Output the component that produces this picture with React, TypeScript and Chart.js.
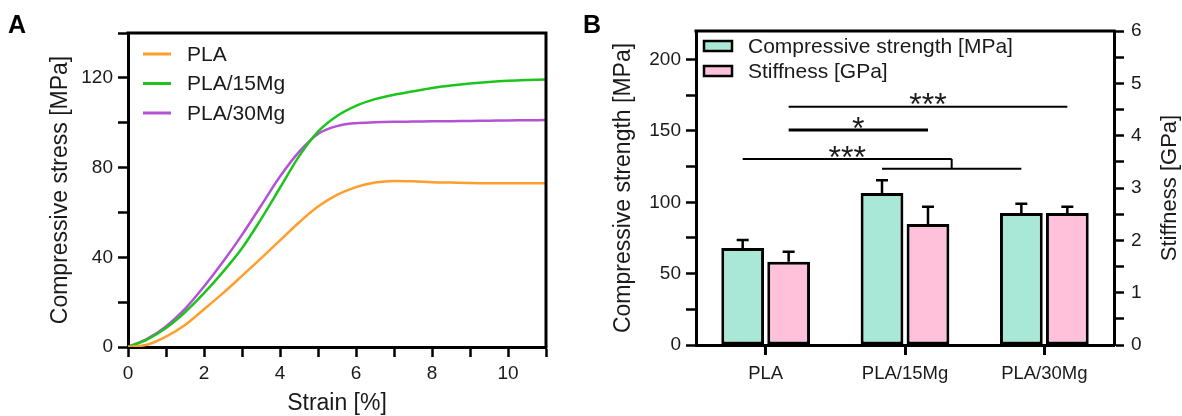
import React, { useEffect, useRef } from 'react';
import { Chart, registerables } from 'chart.js';

Chart.register(...registerables);

const FONT = "'Liberation Sans', Arial, Helvetica, sans-serif";
const TEXT = '#1a1a1a';

// ---------- Panel A data ----------
const strain = [0, 0.5, 1, 1.5, 2, 2.5, 3, 3.5, 4, 4.5, 5, 5.5, 6, 6.5, 7, 7.5, 8, 8.5, 9, 9.5, 10, 10.5, 11];
const stressPLA = [0, 1, 4.6, 9.8, 16.8, 24, 31.7, 39.5, 47.5, 55.5, 62.6, 67.8, 71.3, 73.3, 74, 73.9, 73.5, 73.3, 73.1, 73, 73, 73, 73];
const stress15Mg = [0, 3.3, 8.5, 15.5, 24, 33.5, 44, 57, 71, 85, 96, 103, 107.5, 110.5, 112.5, 114, 115.5, 116.6, 117.5, 118.2, 118.7, 119, 119.3];
const stress30Mg = [0, 3.6, 9.2, 17, 27, 38, 50, 63, 76, 87, 95, 98.5, 99.8, 100.2, 100.4, 100.5, 100.6, 100.7, 100.8, 100.9, 101, 101.1, 101.2];
const seriesNamesA = ['PLA', 'PLA/15Mg', 'PLA/30Mg'];

// ---------- Panel B data ----------
const groups = ['PLA', 'PLA/15Mg', 'PLA/30Mg'];
const strength = [68, 106.5, 92.5];
const strengthErr = [5.5, 9, 6.5];
const stiffness = [1.59, 2.31, 2.52];
const stiffnessErr = [0.19, 0.33, 0.12];
const seriesNamesB = ['Compressive strength [MPa]', 'Stiffness [GPa]'];

// significance: [groupIndex, datasetIndex] endpoints, level in MPa
const significance = [
  { label: '***', from: [0, 1], to: [2, 1], level: 167 },
  { label: '*', from: [0, 1], to: [1, 1], level: 150.6 },
  { label: '***', from: [0, 0], bracket: { from: [1, 0], to: [2, 0], level: 123.5 }, level: 130.3 },
];

const COLORS = {
  pla: '#FF9E2C',
  mg15: '#1EC41E',
  mg30: '#B352D4',
  strength: '#A9E8D7',
  stiffness: '#FFC1DA',
};

const tickFont = { family: FONT, size: 19 };
const titleFont = { family: FONT, size: 23, lineHeight: 1 };

const framePlugin = (drawRight: boolean) => ({
  id: 'frame' + (drawRight ? 'R' : ''),
  afterDraw(chart: any) {
    const { ctx, chartArea: ca } = chart;
    ctx.save();
    ctx.strokeStyle = '#000';
    ctx.lineWidth = 3;
    ctx.beginPath();
    ctx.moveTo(ca.left - 1.5, ca.top);
    ctx.lineTo(ca.right + 1.5, ca.top);
    if (drawRight) {
      ctx.moveTo(ca.right, ca.top);
      ctx.lineTo(ca.right, ca.bottom + 1.5);
    }
    ctx.stroke();
    ctx.restore();
  },
});

const letterPlugin = (letter: string, x: number) => ({
  id: 'letter' + letter,
  afterDraw(chart: any) {
    const { ctx } = chart;
    ctx.save();
    ctx.font = `bold 25px ${FONT}`;
    ctx.fillStyle = '#000';
    ctx.textBaseline = 'alphabetic';
    ctx.fillText(letter, x, 33);
    ctx.restore();
  },
});

const legendAPlugin = {
  id: 'legendA',
  afterDraw(chart: any) {
    const { ctx, chartArea: ca } = chart;
    ctx.save();
    ctx.font = `21px ${FONT}`;
    ctx.textBaseline = 'middle';
    ctx.fillStyle = TEXT;
    chart.data.datasets.forEach((ds: any, i: number) => {
      const y = ca.top + 21 + i * 29.5;
      ctx.strokeStyle = ds.borderColor;
      ctx.lineWidth = 3;
      ctx.beginPath();
      ctx.moveTo(ca.left + 15, y);
      ctx.lineTo(ca.left + 43, y);
      ctx.stroke();
      ctx.fillText(ds.label, ca.left + 59, y + 1);
    });
    ctx.restore();
  },
};

const legendBPlugin = {
  id: 'legendB',
  afterDraw(chart: any) {
    const { ctx, chartArea: ca } = chart;
    ctx.save();
    ctx.font = `21px ${FONT}`;
    ctx.textBaseline = 'middle';
    chart.data.datasets.forEach((ds: any, i: number) => {
      const y = ca.top + 15 + i * 25;
      ctx.fillStyle = ds.backgroundColor;
      ctx.fillRect(ca.left + 8, y - 5, 28, 10);
      ctx.strokeStyle = '#000';
      ctx.lineWidth = 2.5;
      ctx.strokeRect(ca.left + 8, y - 5, 28, 10);
      ctx.fillStyle = TEXT;
      ctx.fillText(ds.label, ca.left + 52, y + 1);
    });
    ctx.restore();
  },
};

const errorBarPlugin = {
  id: 'errorBars',
  afterDatasetsDraw(chart: any) {
    const { ctx } = chart;
    const errs = [strengthErr, stiffnessErr];
    ctx.save();
    ctx.strokeStyle = '#000';
    ctx.lineWidth = 2.5;
    chart.data.datasets.forEach((ds: any, di: number) => {
      const meta = chart.getDatasetMeta(di);
      const scale = chart.scales[ds.yAxisID];
      meta.data.forEach((bar: any, i: number) => {
        const top = scale.getPixelForValue(ds.data[i] + errs[di][i]);
        ctx.beginPath();
        ctx.moveTo(bar.x, bar.y);
        ctx.lineTo(bar.x, top);
        ctx.moveTo(bar.x - 6, top);
        ctx.lineTo(bar.x + 6, top);
        ctx.stroke();
      });
    });
    ctx.restore();
  },
};

const significancePlugin = {
  id: 'significance',
  afterDraw(chart: any) {
    const { ctx } = chart;
    const yS = chart.scales.y;
    const barX = (p: number[]) => chart.getDatasetMeta(p[1]).data[p[0]].x;
    ctx.save();
    ctx.strokeStyle = '#000';
    ctx.fillStyle = TEXT;
    ctx.font = `32px ${FONT}`;
    ctx.textAlign = 'center';
    ctx.textBaseline = 'alphabetic';
    significance.forEach((s: any) => {
      const y = yS.getPixelForValue(s.level);
      const x1 = barX(s.from);
      let x2: number;
      ctx.lineWidth = 2;
      if (s.bracket) {
        const bx1 = barX(s.bracket.from);
        const bx2 = barX(s.bracket.to);
        const by = yS.getPixelForValue(s.bracket.level);
        x2 = (bx1 + bx2) / 2;
        ctx.beginPath();
        ctx.moveTo(bx1, by);
        ctx.lineTo(bx2, by);
        ctx.moveTo(x2, by);
        ctx.lineTo(x2, y);
        ctx.stroke();
      } else {
        x2 = barX(s.to);
      }
      ctx.lineWidth = s.label.length === 1 ? 3 : 2;
      ctx.beginPath();
      ctx.moveTo(x1, y);
      ctx.lineTo(x2, y);
      ctx.stroke();
      ctx.fillText(s.label, (x1 + x2) / 2, y + 8.5);
    });
    ctx.restore();
  },
};

const rightTitlePlugin = {
  id: 'rightTitle',
  afterDraw(chart: any) {
    const { ctx, chartArea: ca } = chart;
    ctx.save();
    ctx.font = `22px ${FONT}`;
    ctx.fillStyle = TEXT;
    ctx.textAlign = 'center';
    ctx.textBaseline = 'middle';
    ctx.translate(590, (ca.top + ca.bottom) / 2);
    ctx.rotate(-Math.PI / 2);
    ctx.fillText('Stiffness [GPa]', 0, 0);
    ctx.restore();
  },
};

const axisCommon = {
  grid: { drawOnChartArea: false, drawTicks: true, tickLength: 10, tickWidth: 2.5, tickColor: '#000' },
  border: { display: true, width: 3, color: '#000' },
};

export default function App() {
  const refA = useRef<HTMLCanvasElement>(null);
  const refB = useRef<HTMLCanvasElement>(null);

  useEffect(() => {
    const mk = (vals: number[]) => strain.map((x, i) => ({ x, y: vals[i] }));
    const chartA = new Chart(refA.current!, {
      type: 'line',
      data: {
        datasets: [
          { label: seriesNamesA[0], data: mk(stressPLA), borderColor: COLORS.pla },
          { label: seriesNamesA[1], data: mk(stress15Mg), borderColor: COLORS.mg15 },
          { label: seriesNamesA[2], data: mk(stress30Mg), borderColor: COLORS.mg30 },
        ].map((d) => ({ ...d, borderWidth: 2.5, pointRadius: 0, fill: false, cubicInterpolationMode: 'monotone' as const })),
      },
      options: {
        responsive: false,
        animation: false,
        layout: { padding: { left: 0, right: 34, top: 33, bottom: 0 } },
        plugins: { legend: { display: false }, tooltip: { enabled: false } },
        scales: {
          x: {
            type: 'linear',
            min: 0,
            max: 11,
            ...axisCommon,
            ticks: {
              stepSize: 1,
              autoSkip: false,
              maxRotation: 0,
              padding: 5,
              color: TEXT,
              font: tickFont,
              callback: (v: any) => (Number(v) % 2 === 0 ? String(v) : ''),
            },
            title: { display: true, text: 'Strain [%]', color: TEXT, font: titleFont, padding: { top: 0, bottom: 0.5 } },
            afterFit: (s: any) => {
              s.height = 69;
              s.paddingLeft = 0;
              s.paddingRight = 0;
            },
          },
          y: {
            type: 'linear',
            min: 0,
            max: 140,
            ...axisCommon,
            ticks: {
              stepSize: 20,
              padding: 5,
              color: TEXT,
              font: tickFont,
              callback: (v: any) => (Number(v) % 40 === 0 ? String(v) : ''),
            },
            title: { display: true, text: 'Compressive stress [MPa]', color: TEXT, font: titleFont, padding: { top: 49.5, bottom: 0 } },
            afterFit: (s: any) => {
              s.width = 128;
              s.paddingTop = 0;
              s.paddingBottom = 0;
            },
          },
        },
      } as any,
      plugins: [framePlugin(true), legendAPlugin, letterPlugin('A', 8)],
    });

    const chartB = new Chart(refB.current!, {
      type: 'bar',
      data: {
        labels: groups,
        datasets: [
          { label: seriesNamesB[0], data: strength, yAxisID: 'y', backgroundColor: COLORS.strength },
          { label: seriesNamesB[1], data: stiffness, yAxisID: 'y1', backgroundColor: COLORS.stiffness },
        ].map((d) => ({
          ...d,
          borderColor: '#000',
          borderWidth: 3,
          borderSkipped: false,
          categoryPercentage: 0.66,
          barPercentage: 0.93,
        })),
      },
      options: {
        responsive: false,
        animation: false,
        layout: { padding: { left: 0, right: 0, top: 31, bottom: 0 } },
        plugins: { legend: { display: false }, tooltip: { enabled: false } },
        scales: {
          x: {
            type: 'category',
            offset: true,
            ...axisCommon,
            grid: { ...axisCommon.grid, offset: false, tickWidth: 3 },
            ticks: { padding: 8, color: TEXT, font: { family: FONT, size: 18.5 }, maxRotation: 0 },
            afterFit: (s: any) => {
              s.height = 71;
              s.paddingLeft = 0;
              s.paddingRight = 0;
            },
          },
          y: {
            type: 'linear',
            position: 'left',
            min: 0,
            max: 220,
            ...axisCommon,
            ticks: {
              stepSize: 25,
              includeBounds: false,
              padding: 5,
              color: TEXT,
              font: tickFont,
              callback: (v: any) => (Number(v) % 50 === 0 ? String(v) : ''),
            },
            title: { display: true, text: 'Compressive strength [MPa]', color: TEXT, font: titleFont, padding: { top: 32.5, bottom: 0 } },
            afterFit: (s: any) => {
              s.width = 116;
              s.paddingTop = 0;
              s.paddingBottom = 0;
            },
          },
          y1: {
            type: 'linear',
            position: 'right',
            min: 0,
            max: 6,
            ...axisCommon,
            ticks: {
              stepSize: 0.5,
              padding: 7,
              color: TEXT,
              font: tickFont,
              callback: (v: any) => (Number.isInteger(Number(v)) ? String(v) : ''),
            },
            title: { display: false },
            afterFit: (s: any) => {
              s.width = 68;
              s.paddingTop = 0;
              s.paddingBottom = 0;
            },
          },
        },
      } as any,
      plugins: [framePlugin(false), errorBarPlugin, significancePlugin, legendBPlugin, rightTitlePlugin, letterPlugin('B', 3)],
    });

    return () => {
      chartA.destroy();
      chartB.destroy();
    };
  }, []);

  return (
    <div style={{ position: 'fixed', left: 0, top: 0, width: 1182, height: 416, background: '#fff' }}>
      <canvas ref={refA} width={580} height={416} style={{ position: 'absolute', left: 0, top: 0, width: 580, height: 416 }} />
      <canvas ref={refB} width={602} height={416} style={{ position: 'absolute', left: 580, top: 0, width: 602, height: 416 }} />
    </div>
  );
}
